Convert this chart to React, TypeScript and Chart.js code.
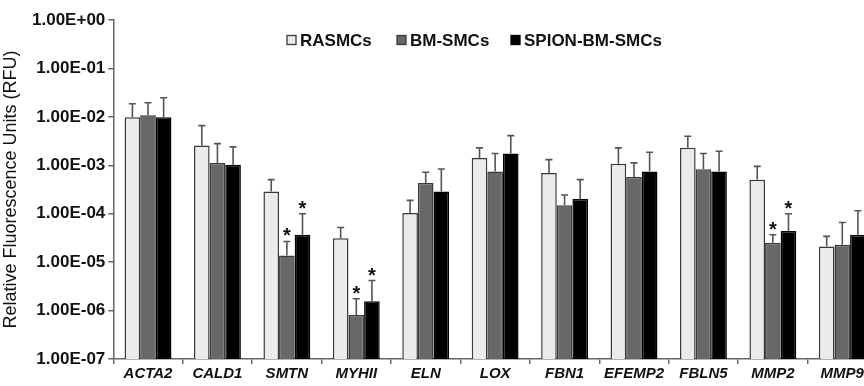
import React, { useEffect, useRef } from "react";
import { Chart, registerables } from "chart.js";

Chart.register(...registerables);

const categories = ["ACTA2", "CALD1", "SMTN", "MYHII", "ELN", "LOX", "FBN1", "EFEMP2", "FBLN5", "MMP2", "MMP9"];
const seriesNames = ["RASMCs", "BM-SMCs", "SPION-BM-SMCs"];

const rasmcValues = [9.8e-3, 2.55e-3, 2.86e-4, 3.1e-5, 1.03e-4, 1.42e-3, 6.95e-4, 1.07e-3, 2.29e-3, 5.0e-4, 2.1e-5];
const rasmcErrTop = [1.86e-2, 6.6e-3, 5.06e-4, 5.2e-5, 1.89e-4, 2.29e-3, 1.31e-3, 2.29e-3, 3.98e-3, 9.5e-4, 3.4e-5];
const bmValues = [1.08e-2, 1.12e-3, 1.37e-5, 8.1e-7, 4.32e-4, 7.4e-4, 1.49e-4, 5.75e-4, 8.3e-4, 2.5e-5, 2.29e-5];
const bmErrTop = [1.95e-2, 2.8e-3, 2.67e-5, 1.75e-6, 7.16e-4, 1.75e-3, 2.44e-4, 1.12e-3, 1.75e-3, 3.68e-5, 6.6e-5];
const spionValues = [9.8e-3, 1.02e-3, 3.68e-5, 1.56e-6, 2.86e-4, 1.75e-3, 2.01e-4, 7.4e-4, 7.4e-4, 4.38e-5, 3.62e-5];
const spionErrTop = [2.48e-2, 2.4e-3, 1.0e-4, 4.17e-6, 8.4e-4, 4.1e-3, 5.06e-4, 1.86e-3, 1.95e-3, 1.0e-4, 1.15e-4];

const rasmcStars = [false, false, false, false, false, false, false, false, false, false, false];
const bmStars = [false, false, true, true, false, false, false, false, false, true, false];
const spionStars = [false, false, true, true, false, false, false, false, false, true, false];

const yTickValues = [1e-7, 1e-6, 1e-5, 1e-4, 1e-3, 1e-2, 1e-1, 1];
const yTickLabels = ["1.00E-07", "1.00E-06", "1.00E-05", "1.00E-04", "1.00E-03", "1.00E-02", "1.00E-01", "1.00E+00"];
const yTitle = "Relative Fluorescence Units (RFU)";

const fills = ["#ebebeb", "#686868", "#000000"];
const borders = ["#3a3a3a", "#3a3a3a", "#000000"];
const errTops = [rasmcErrTop, bmErrTop, spionErrTop];
const stars = [rasmcStars, bmStars, spionStars];

const overlayPlugin = {
  id: "overlay",
  afterDatasetsDraw(chart: any) {
    const ctx = chart.ctx;
    const y = chart.scales.y;
    ctx.save();
    chart.data.datasets.forEach((ds: any, di: number) => {
      const meta = chart.getDatasetMeta(di);
      meta.data.forEach((bar: any, i: number) => {
        const x = bar.x;
        const yTop = y.getPixelForValue(ds.data[i]);
        const yErr = y.getPixelForValue(errTops[di][i]);
        ctx.strokeStyle = "#555";
        ctx.lineWidth = 1.6;
        ctx.beginPath();
        ctx.moveTo(x, yTop);
        ctx.lineTo(x, yErr);
        ctx.moveTo(x - 3.5, yErr);
        ctx.lineTo(x + 3.5, yErr);
        ctx.stroke();
        if (stars[di][i]) {
          ctx.fillStyle = "#111";
          ctx.font = "bold 20px 'Liberation Sans', Arial, sans-serif";
          ctx.textAlign = "center";
          ctx.textBaseline = "alphabetic";
          ctx.fillText("*", x, yErr + 1);
        }
      });
    });
    // legend
    const items = [
      { x: 287, tx: 300 },
      { x: 397, tx: 410 },
      { x: 511, tx: 524 },
    ];
    const ly = 40;
    ctx.font = "bold 17px 'Liberation Sans', Arial, sans-serif";
    ctx.textAlign = "left";
    ctx.textBaseline = "middle";
    items.forEach((it, k) => {
      ctx.fillStyle = fills[k];
      ctx.fillRect(it.x, ly - 4.5, 9, 9);
      ctx.strokeStyle = borders[k];
      ctx.lineWidth = 1.3;
      ctx.strokeRect(it.x, ly - 4.5, 9, 9);
      ctx.fillStyle = "#111";
      ctx.fillText(seriesNames[k], it.tx, ly + 1);
    });
    ctx.restore();
  },
};

export default function App() {
  const ref = useRef<HTMLCanvasElement | null>(null);
  useEffect(() => {
    if (!ref.current) return;
    const valueSets = [rasmcValues, bmValues, spionValues];
    const chart = new Chart(ref.current, {
      type: "bar",
      data: {
        labels: categories,
        datasets: seriesNames.map((name, k) => ({
          label: name,
          data: valueSets[k],
          backgroundColor: fills[k],
          borderColor: borders[k],
          borderWidth: 1.5,
          categoryPercentage: 0.675,
          barPercentage: 1.0,
        })),
      },
      options: {
        animation: false,
        responsive: true,
        maintainAspectRatio: false,
        layout: { padding: { top: 20, right: 3, bottom: 0, left: 0 } },
        plugins: {
          legend: { display: false },
          tooltip: { enabled: false },
        },
        scales: {
          x: {
            type: "category",
            offset: true,
            grid: {
              display: true,
              offset: true,
              drawOnChartArea: false,
              drawTicks: true,
              tickLength: 5,
              color: "#666",
              lineWidth: 1.5,
            },
            border: { display: true, color: "#666", width: 1.5 },
            ticks: {
              color: "#111",
              font: { family: "'Liberation Sans', Arial, sans-serif", size: 15, weight: "bold", style: "italic" },
              padding: 1,
              maxRotation: 0,
              autoSkip: false,
            },
            afterFit: (scale: any) => {
              scale.height = 27;
            },
          },
          y: {
            type: "logarithmic",
            min: 1e-7,
            max: 1,
            grid: {
              display: true,
              drawOnChartArea: false,
              drawTicks: true,
              tickLength: 5,
              color: "#666",
              lineWidth: 1.5,
            },
            border: { display: true, color: "#666", width: 1.5 },
            afterBuildTicks: (scale: any) => {
              scale.ticks = yTickValues.map((v) => ({ value: v, major: true }));
            },
            ticks: {
              color: "#111",
              font: { family: "'Liberation Sans', Arial, sans-serif", size: 17, weight: "bold" },
              padding: 3,
              callback: (value: any) => {
                const idx = yTickValues.findIndex((v) => Math.abs(Math.log10(v) - Math.log10(Number(value))) < 1e-6);
                return idx >= 0 ? yTickLabels[idx] : "";
              },
            },
            title: {
              display: true,
              text: yTitle,
              color: "#111",
              font: { family: "'Liberation Sans', Arial, sans-serif", size: 18 },
              padding: { top: 0, bottom: 2 },
            },
            afterFit: (scale: any) => {
              scale.width = 113.3;
            },
          },
        },
      },
      plugins: [overlayPlugin],
    });
    return () => chart.destroy();
  }, []);

  return (
    <div style={{ position: "absolute", left: 0, top: 0, width: 864, height: 386, overflow: "hidden", background: "#fff" }}>
      <div style={{ position: "relative", width: 880, height: 386 }}>
        <canvas ref={ref} />
      </div>
    </div>
  );
}
